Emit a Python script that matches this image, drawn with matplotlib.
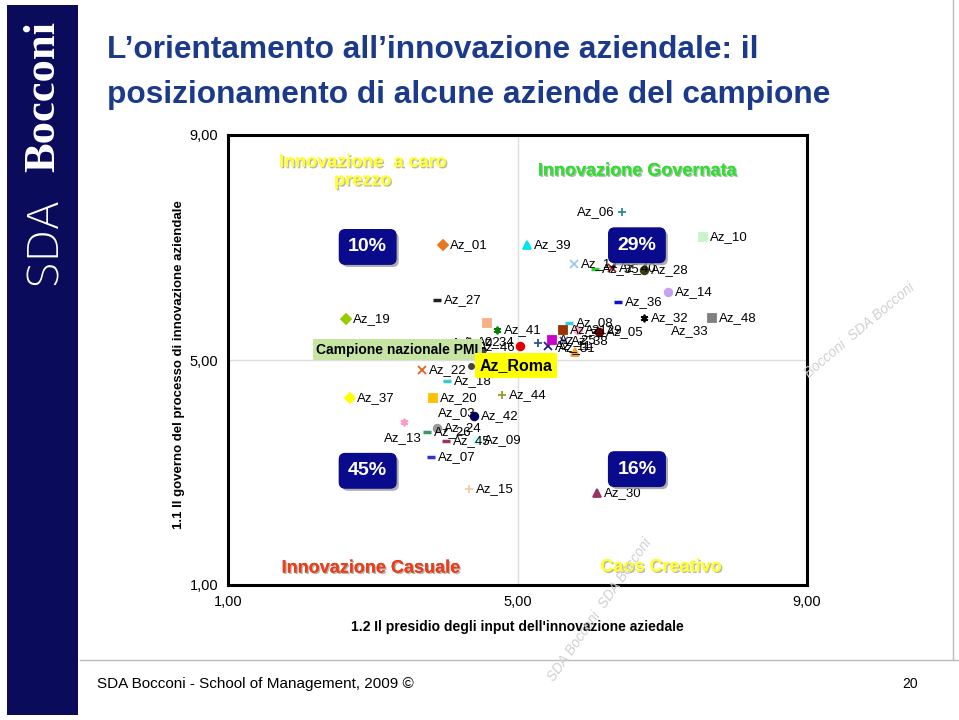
import matplotlib
matplotlib.use("Agg")
import matplotlib.pyplot as plt
from matplotlib.patches import Rectangle
import matplotlib.patheffects as pe
from matplotlib import font_manager

# ---- data ----------------------------------------------------------------
names = [
    "Az_01", "Az_39", "Az_06", "Az_10", "Az_12", "Az_35", "Az_40", "Az_28",
    "Az_14", "Az_36", "Az_27", "Az_19", "Az_32", "Az_48", "Az_33", "Az_08",
    "Az_21", "Az_29", "Az_05", "Az_41", "Az_23", "Az_02", "Az_34", "Az_46",
    "Az_16", "Az_11", "Az_25", "Az_38", "Az_31", "Az_22", "Az_18", "Az_37",
    "Az_20", "Az_44", "Az_03", "Az_42", "Az_13", "Az_24", "Az_26", "Az_45",
    "Az_09", "Az_07", "Az_15", "Az_30",
]
x_input = [
    3.97, 5.13, 6.44, 7.56, 5.78, 6.07, 6.31, 6.75,
    7.08, 6.39, 3.89, 2.63, 6.75, 7.69, 7.03, 5.71,
    5.63, 5.84, 6.13, 4.72, 4.58, 4.15, 4.34, 5.03,
    5.28, 5.42, 5.48, 5.64, 5.79, 3.68, 4.03, 2.69,
    3.83, 4.79, 3.86, 4.40, 3.43, 3.89, 3.75, 4.01,
    4.44, 3.80, 4.33, 6.10,
]
y_governo = [
    7.04, 7.04, 7.63, 7.19, 6.71, 6.62, 6.64, 6.60,
    6.21, 6.03, 6.07, 5.73, 5.75, 5.75, 5.52, 5.66,
    5.53, 5.53, 5.50, 5.53, 5.66, 5.32, 5.32, 5.25,
    5.30, 5.25, 5.36, 5.33, 5.14, 4.82, 4.63, 4.32,
    4.32, 4.38, 4.06, 4.00, 3.90, 3.79, 3.72, 3.56,
    3.58, 3.28, 2.71, 2.64,
]
# reference points
ref_names = ["Campione nazionale PMI", "Az_Roma"]
ref_x = [4.52, 4.36]
ref_y = [5.18, 4.90]

quadrant_share = ["10%", "29%", "45%", "16%"]

# ---- marker styles -------------------------------------------------------
style = {
    "Az_01": ("D", "#E87722"), "Az_39": ("^", "#00E5EE"), "Az_06": ("+", "#2E8B8B"),
    "Az_10": ("s", "#C8F5C8"), "Az_12": ("x", "#9EC8E8"), "Az_35": ("_", "#33CC33"),
    "Az_40": ("x", "#A02020"), "Az_28": ("o", "#3A3A10"), "Az_14": ("o", "#C8A0F0"),
    "Az_36": ("_", "#1010CC"), "Az_27": ("_", "#202020"), "Az_19": ("D", "#99CC00"),
    "Az_32": ((6, 2, 0), "#000000"), "Az_48": ("s", "#808080"), "Az_33": ("o", "#FFFFFF"),
    "Az_08": ("_", "#33CCDD"), "Az_21": ("s", "#993300"), "Az_29": ("o", "#F4B0C8"),
    "Az_05": ("o", "#660000"), "Az_41": ((6, 2, 0), "#008000"), "Az_23": ("s", "#F4B183"),
    "Az_02": ("+", "#000000"), "Az_34": ("^", "#333333"), "Az_46": ("o", "#E00000"),
    "Az_16": ("+", "#3050A0"), "Az_11": ("x", "#202080"), "Az_25": ("s", "#CC00CC"),
    "Az_38": ("x", "#6060A0"), "Az_31": ("^", "#F0A030"), "Az_22": ("x", "#E06020"),
    "Az_18": ("_", "#33CCCC"), "Az_37": ("D", "#FFFF00"), "Az_20": ("s", "#FFC000"),
    "Az_44": ("+", "#999933"), "Az_03": ("o", "#FFFFFF"), "Az_42": ("o", "#000066"),
    "Az_13": ((6, 2, 0), "#FF99CC"), "Az_24": ("o", "#999999"), "Az_26": ("_", "#339966"),
    "Az_45": ("_", "#993366"), "Az_09": ("o", "#CCFFFF"), "Az_07": ("_", "#3333CC"),
    "Az_15": ("+", "#F4CCA0"), "Az_30": ("^", "#993366"),
}
# label offsets in points (default: right of marker)
label_off = {
    "Az_06": (-5, 0, "right"), "Az_46": (-3, -1, "right"), "Az_13": (-14, -12, "left"),
    "Az_31": (-12, 3, "left"), "Az_16": None, "Az_23": None, "Az_03": (2, 0, "left"),
}

# ---- fonts ---------------------------------------------------------------
avail = {f.name for f in font_manager.fontManager.ttflist}
narrow = "Liberation Sans Narrow" if "Liberation Sans Narrow" in avail else "Liberation Sans"
plt.rcParams["font.family"] = ["Liberation Sans", "DejaVu Sans"]

fig = plt.figure(figsize=(9.59, 7.2), dpi=100)
fig.patch.set_facecolor("white")

# left navy band with logo
fig.add_artist(Rectangle((7 / 959, 5 / 720), 71 / 959, 710 / 720,
                         transform=fig.transFigure, facecolor="#0B0B5C",
                         edgecolor="none"))
fig.text(43 / 959, 1 - 97 / 720, "Bocconi", rotation=90, color="white",
         family="Liberation Serif", weight="bold", fontsize=32,
         ha="center", va="center")
fig.text(43 / 959, 1 - 240 / 720, "SDA", rotation=90, color="white",
         family="DejaVu Sans", weight="light", fontsize=31,
         ha="center", va="center")

# slide frame lines
fig.add_artist(plt.Line2D([953 / 959, 953 / 959], [1 - 660 / 720, 1.0],
                          transform=fig.transFigure, color="#BBBBBB", lw=1))
fig.add_artist(plt.Line2D([80 / 959, 1.0], [1 - 660 / 720, 1 - 660 / 720],
                          transform=fig.transFigure, color="#BBBBBB", lw=1))

# title
fig.text(107 / 959, 1 - 50 / 720, "L’orientamento all’innovazione aziendale: il",
         family=narrow, weight="bold", fontsize=22.8, color="#1B3A8C",
         ha="left", va="center")
fig.text(107 / 959, 1 - 95 / 720, "posizionamento di alcune aziende del campione",
         family=narrow, weight="bold", fontsize=22.8, color="#1B3A8C",
         ha="left", va="center")

# footer
fig.text(97 / 959, 1 - 684 / 720, "SDA Bocconi - School of Management, 2009 ©",
         fontsize=11, ha="left", va="center")
fig.text(918 / 959, 1 - 684 / 720, "20", fontsize=10, ha="right", va="center")

# watermark
for (wx, wy, rot, txt) in [(860, 330, 40, "Bocconi  SDA Bocconi"),
                          (600, 610, 55, "SDA Bocconi  SDA Bocconi")]:
    fig.text(wx / 959, 1 - wy / 720, txt, rotation=rot, fontsize=10,
             color="#D0D0D0", ha="center", va="center", style="italic")

# ---- chart ---------------------------------------------------------------
ax = fig.add_axes([228 / 959, 1 - 585 / 720, 579 / 959, 450 / 720])
ax.set_xlim(1, 9)
ax.set_ylim(1, 9)
ax.set_xticks([1, 5, 9])
ax.set_yticks([1, 5, 9])
ax.set_xticklabels(["1,00", "5,00", "9,00"], fontsize=10.5)
ax.set_yticklabels(["1,00", "5,00", "9,00"], fontsize=10.5)
ax.tick_params(length=0, pad=7)
for s in ax.spines.values():
    s.set_linewidth(2.2)
    s.set_color("black")
ax.axvline(5, color="#DDDDDD", lw=1, zorder=0)
ax.axhline(5, color="#DDDDDD", lw=1, zorder=0)

ax.set_xlabel("1.2 Il presidio degli input dell'innovazione aziedale",
              family=narrow, weight="bold", fontsize=10)
ax.xaxis.set_label_coords(0.5, -0.078)
ax.set_ylabel("1.1 Il governo del processo di innovazione aziendale",
              family=narrow, weight="bold", fontsize=9.5)
ax.yaxis.set_label_coords(-0.075, 0.49)

for name, xv, yv in zip(names, x_input, y_governo):
    mk, col = style[name]
    lw = 2.5 if mk == "_" else 1.3
    ax.plot(xv, yv, marker=mk, linestyle="none", markersize=5.5,
            color=col, markeredgecolor=col, markeredgewidth=lw, zorder=3)
    off = label_off.get(name, (5, 0, "left"))
    if off is None:
        continue
    dx, dy, ha = off
    ax.annotate(name, (xv, yv), xytext=(dx, dy), textcoords="offset points",
                fontsize=9.5, ha=ha, va="center", zorder=4)

# reference points with highlighted labels
ax.plot(ref_x, ref_y, marker="o", linestyle="none", markersize=4,
        color="#444444", zorder=2)
ax.annotate(ref_names[0], (ref_x[0], ref_y[0]), xytext=(-3, 0),
            textcoords="offset points", ha="right", va="center",
            fontsize=10, weight="bold", zorder=5,
            bbox=dict(boxstyle="square,pad=0.25", fc="#C6E5A2", ec="none"))
ax.annotate(ref_names[1], (ref_x[1], ref_y[1]), xytext=(6, 0),
            textcoords="offset points", ha="left", va="center",
            fontsize=11.5, weight="bold", zorder=5,
            bbox=dict(boxstyle="square,pad=0.3", fc="#FFFF00", ec="none"))

# quadrant shares
shadow = [pe.withSimplePatchShadow(offset=(2, -2), shadow_rgbFace="#999999", alpha=0.8)]
for txt, (qx, qy) in zip(quadrant_share, [(2.93, 7.01), (6.65, 7.04),
                                          (2.93, 3.03), (6.65, 3.06)]):
    t = ax.text(qx, qy, txt, color="white", weight="bold", fontsize=14,
                ha="center", va="center", zorder=6,
                bbox=dict(boxstyle="round,pad=0.45,rounding_size=0.3",
                          fc="#0A0A8C", ec="#0A0A8C"))
    t.get_bbox_patch().set_path_effects(shadow)

# quadrant titles
tshadow = [pe.withSimplePatchShadow(offset=(1, -1), shadow_rgbFace="#888888", alpha=0.6),
           pe.Normal()]
quad_titles = [
    (2.86, 8.35, "Innovazione  a caro\nprezzo", "#FFFF33"),
    (6.65, 8.36, "Innovazione Governata", "#33DD33"),
    (2.97, 1.3, "Innovazione Casuale", "#E8401C"),
    (6.98, 1.32, "Caos Creativo", "#FFFF33"),
]
for qx, qy, txt, col in quad_titles:
    ax.text(qx, qy, txt, color=col, weight="bold", fontsize=13, family=narrow,
            ha="center", va="center", linespacing=1.1, path_effects=tshadow)

fig.savefig("out.png", dpi=100)
